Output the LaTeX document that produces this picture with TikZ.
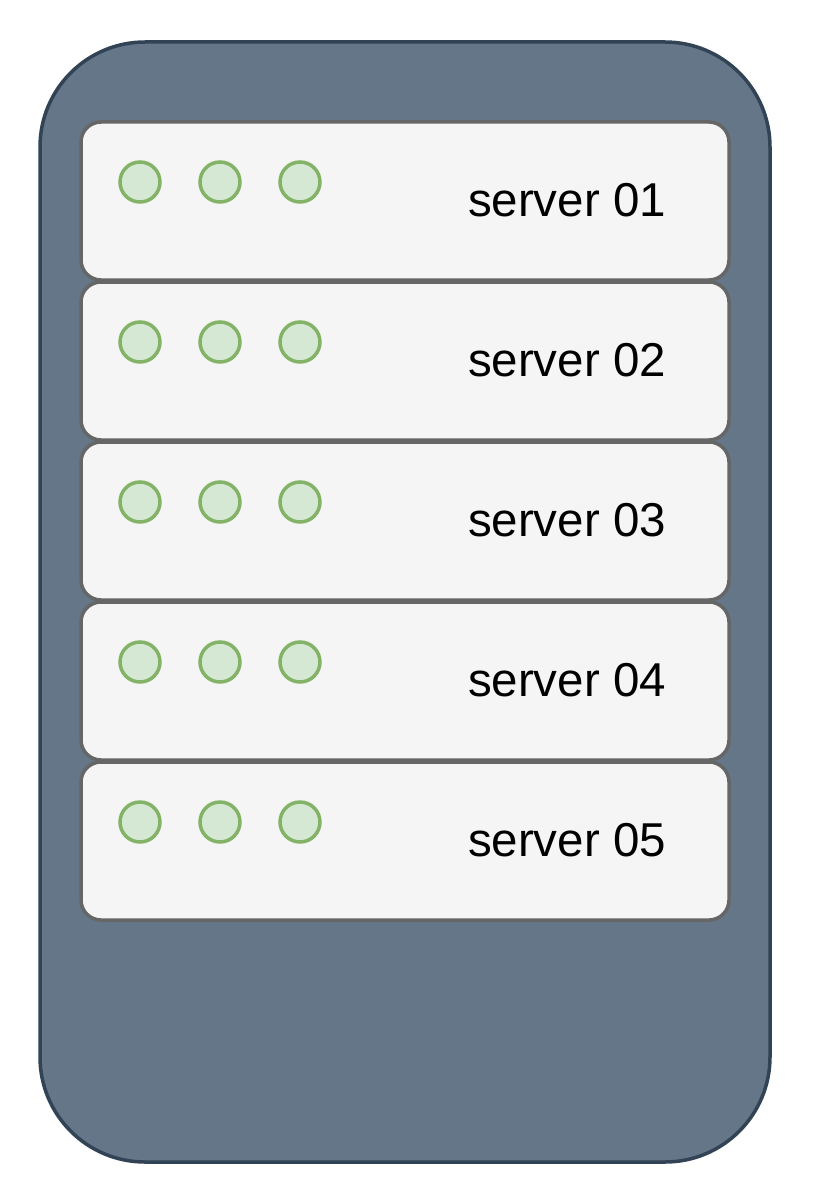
\documentclass[tikz,border=0pt]{standalone}
\usepackage{fontspec}
\setmainfont{Liberation Sans}
\definecolor{rackfill}{HTML}{647687}
\definecolor{rackline}{HTML}{314354}
\definecolor{srvfill}{HTML}{F5F5F5}
\definecolor{srvline}{HTML}{666666}
\definecolor{ledfill}{HTML}{D5E8D4}
\definecolor{ledline}{HTML}{82B366}
\tikzset{
  rackbox/.style={draw=rackline, fill=rackfill, line width=3.5pt, rounded corners=105pt, minimum width=730pt, minimum height=1120pt, inner sep=0pt, outer sep=0pt},
  srvbox/.style={draw=srvline, fill=srvfill, line width=3.5pt, rounded corners=20pt, minimum width=648pt, minimum height=158pt, inner sep=0pt, outer sep=0pt},
  led/.style={circle, draw=ledline, fill=ledfill, line width=3.5pt, minimum size=40pt, inner sep=0pt, outer sep=0pt},
  srvlabel/.style={anchor=base, font=\fontsize{47.5pt}{56pt}\selectfont, inner sep=0pt}
}
\begin{document}
\begin{tikzpicture}[x=1pt, y=-1pt]
\useasboundingbox (0,0) rectangle (816,1204);
\node[rackbox] (rack) at (405,602) {};
\foreach \i/\t in {0/01,1/02,2/03,3/04,4/05}{
  \node[srvbox] (srv\i) at (405,{201+160*\i}) {};
  \node[led] (led\i a) at (140,{182+160*\i}) {};
  \node[led] (led\i b) at (220,{182+160*\i}) {};
  \node[led] (led\i c) at (300,{182+160*\i}) {};
  \node[srvlabel] (lbl\i) at (567,{216+160*\i}) {server \t};
}
\end{tikzpicture}
\end{document}
